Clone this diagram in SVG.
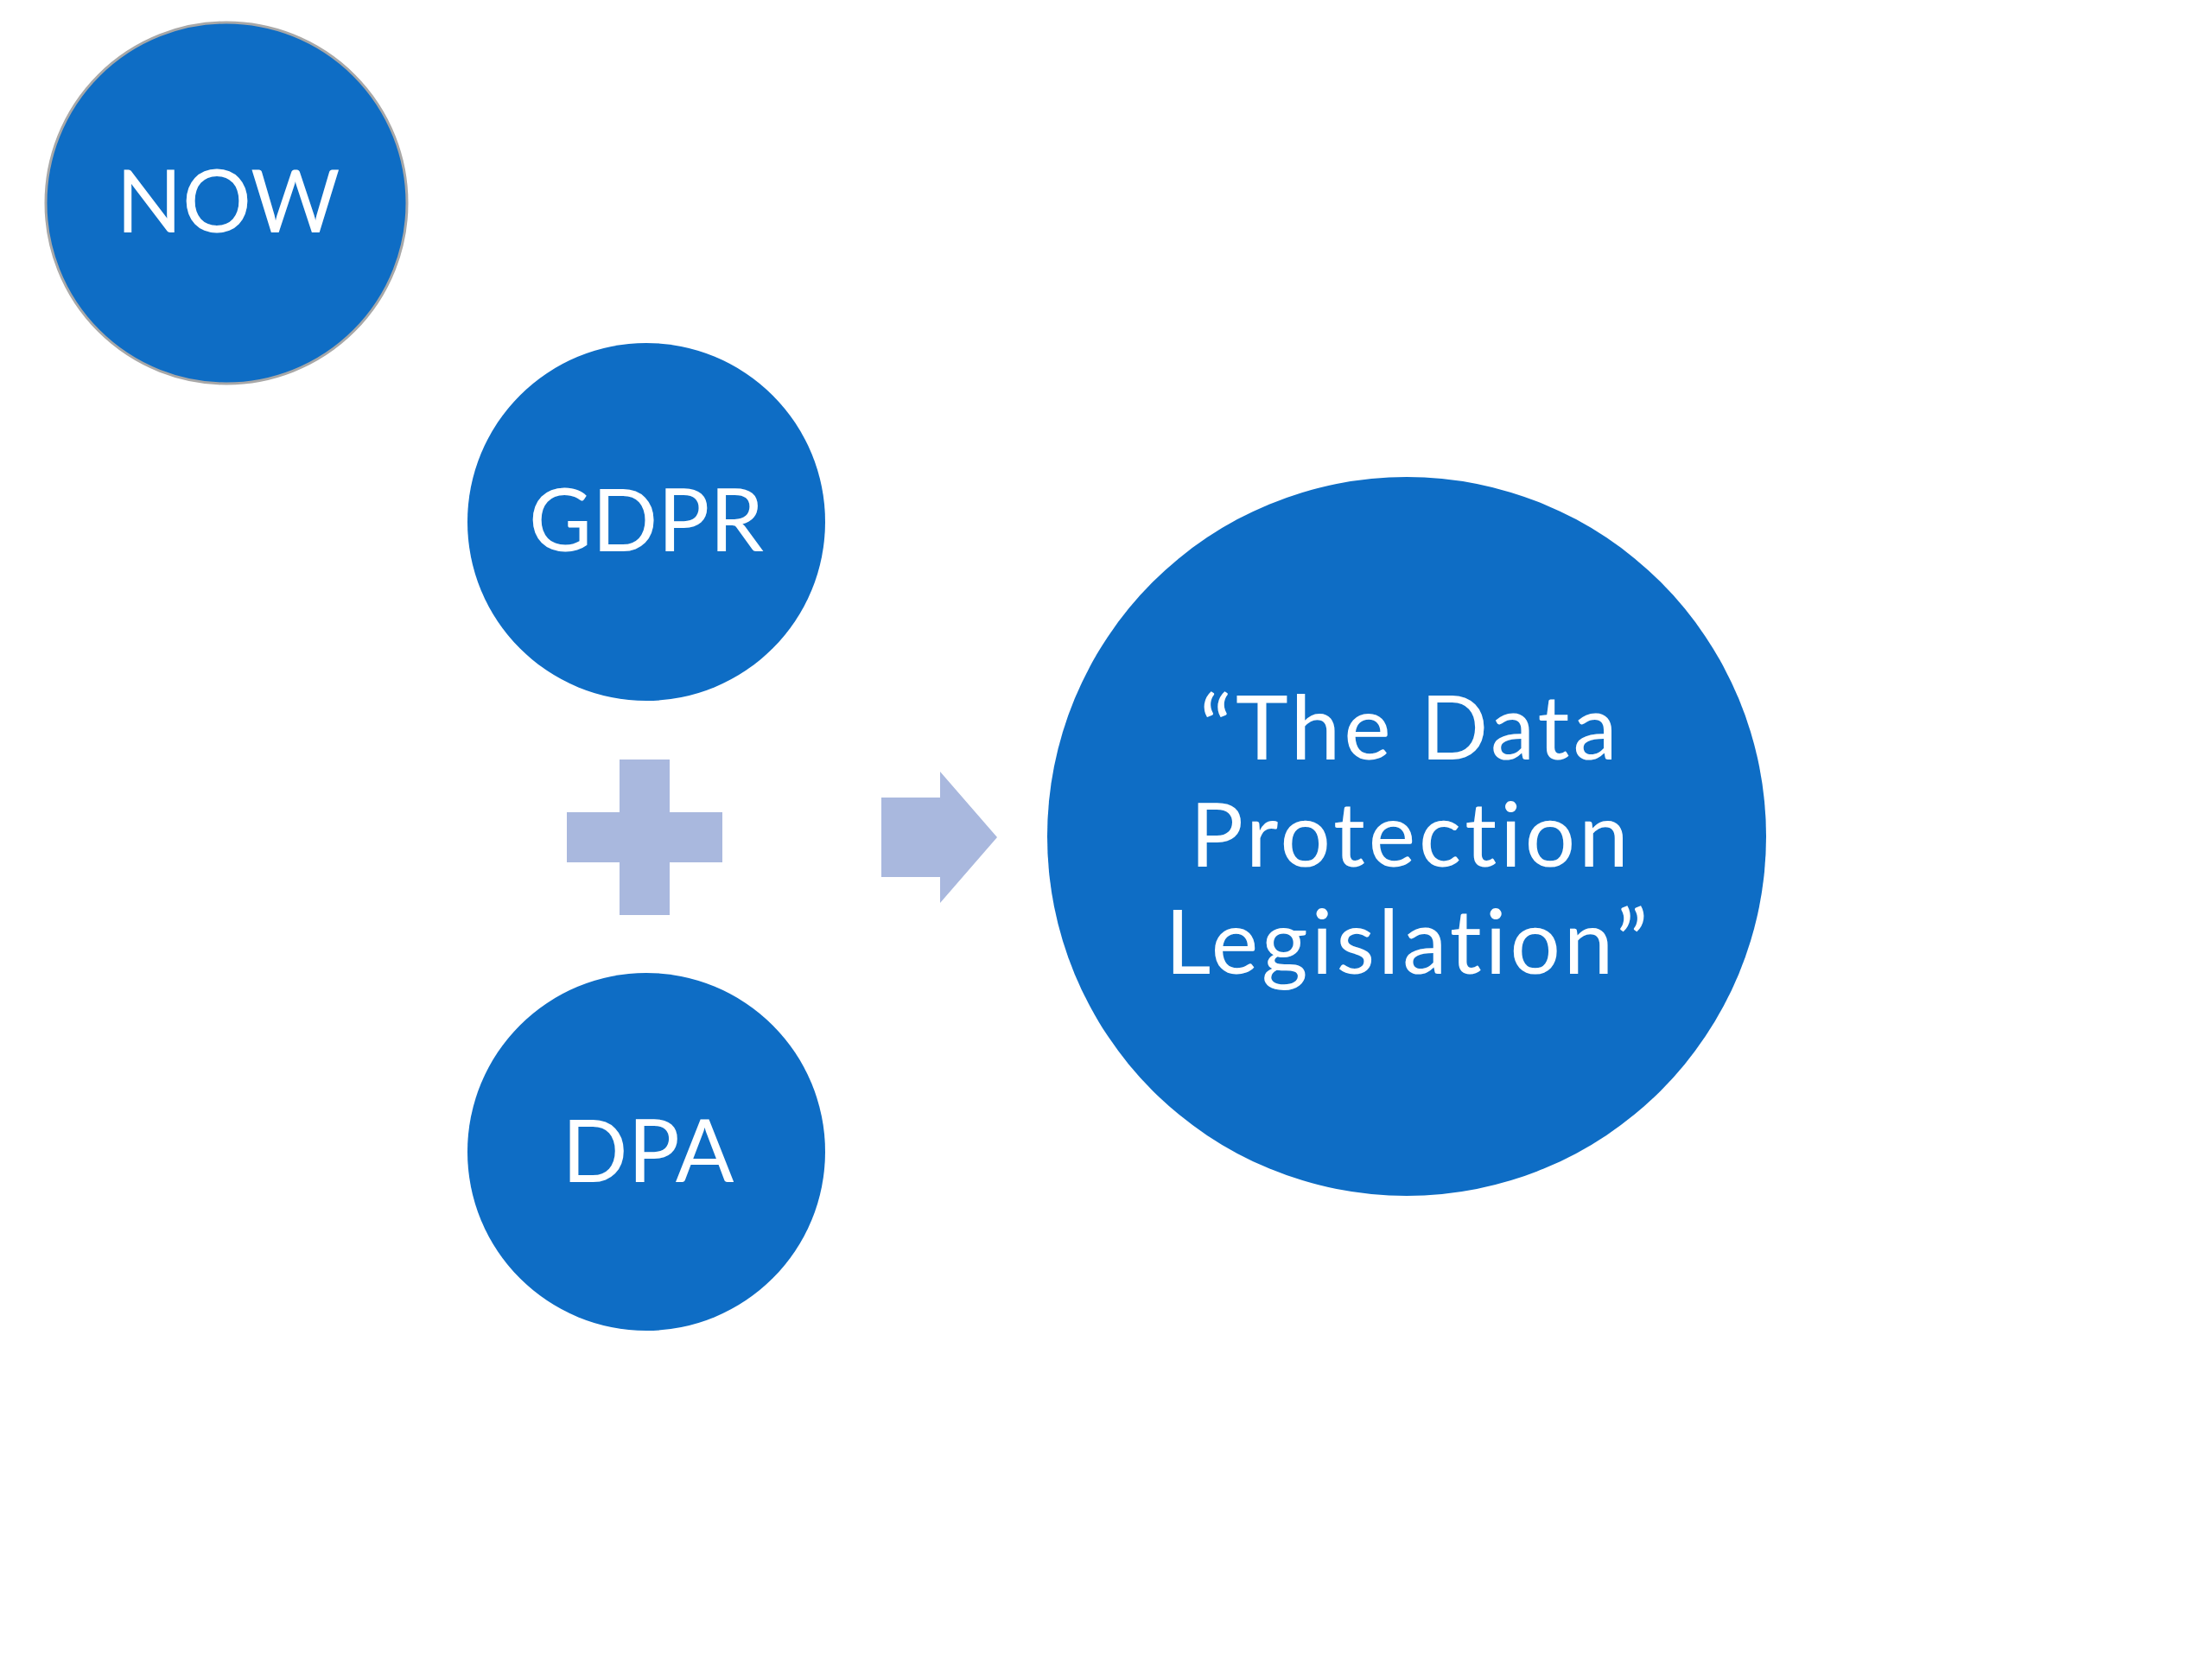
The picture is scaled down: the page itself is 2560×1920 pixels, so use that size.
<svg xmlns="http://www.w3.org/2000/svg" width="2560" height="1920" viewBox="0 0 2560 1920">
<style>
.node{fill:#0E6DC5;}
.lbl{fill:#FFFFFF;font-family:Lato,"Open Sans","Liberation Sans",sans-serif;font-size:100px;text-anchor:middle;font-variant-ligatures:none;font-feature-settings:"liga" 0;}
.big{font-size:103px;letter-spacing:4px;}
.sym{fill:#A9B8DE;}
</style>
<rect x="0" y="0" width="2560" height="1920" fill="#FFFFFF"/>
<g id="now">
<circle class="node" cx="262" cy="235" r="209" stroke="#A8A8A8" stroke-width="3"/>
<text class="lbl" x="264" y="269">NOW</text>
</g>
<g id="gdpr">
<circle class="node" cx="748" cy="604" r="207"/>
<text class="lbl" x="748" y="638">GDPR</text>
</g>
<g id="dpa">
<circle class="node" cx="748" cy="1333" r="207"/>
<text class="lbl" x="750" y="1368">DPA</text>
</g>
<g id="dpl">
<circle class="node" cx="1628" cy="968" r="416"/>
<text class="lbl big" x="1632" y="879">“The Data</text>
<text class="lbl big" x="1633" y="1003">Protection</text>
<text class="lbl big" x="1630" y="1127">Legislation”</text>
</g>
<g id="connectors">
<path id="plus" class="sym" d="M717,879 H775 V940 H836 V998 H775 V1059 H717 V998 H656 V940 H717 Z"/>
<path id="arrow" class="sym" d="M1020,923 H1088 V893 L1154,969 L1088,1045 V1015 H1020 Z"/>
</g>
</svg>
